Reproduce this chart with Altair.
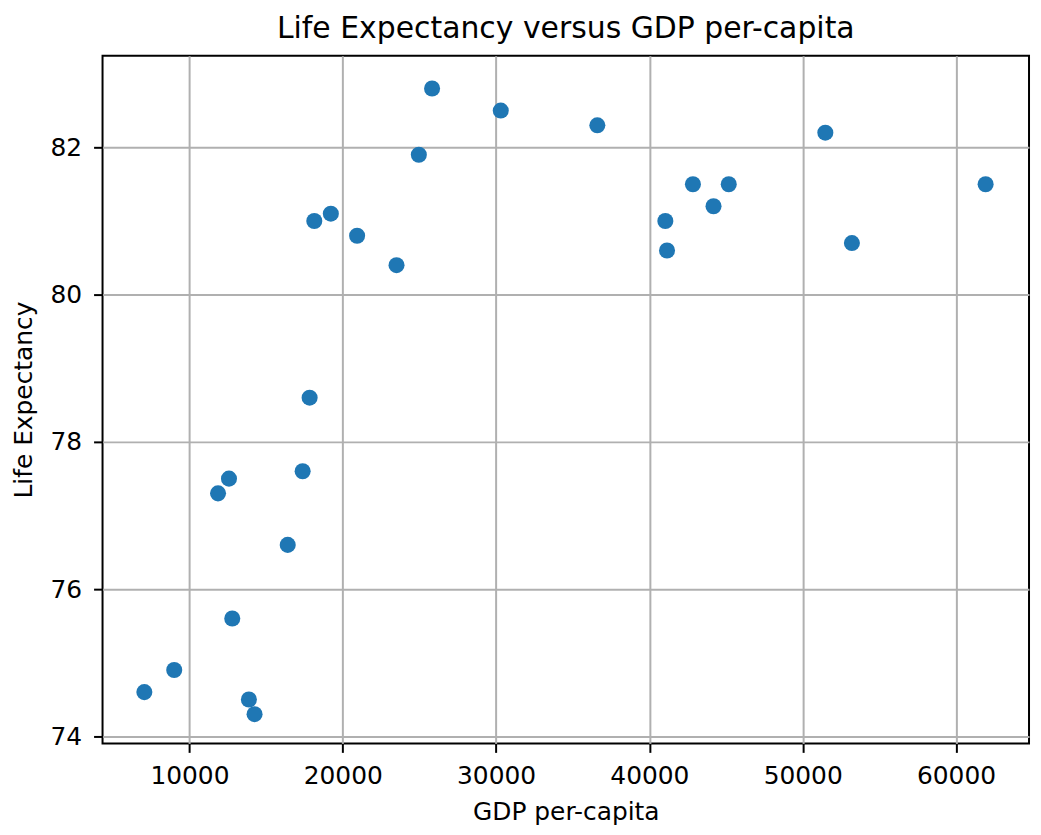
import altair as alt
import pandas as pd

gdp = [25825, 30305, 36604, 51474, 24961, 61929, 42838, 45175, 44182, 41039,
       19221, 18143, 20935, 53208, 41149, 23506, 17838, 17383, 12578, 11864,
       16409, 12792, 9006, 7058, 13877, 14247]
life = [82.8, 82.5, 82.3, 82.2, 81.9, 81.5, 81.5, 81.5, 81.2, 81.0,
        81.1, 81.0, 80.8, 80.7, 80.6, 80.4, 78.6, 77.6, 77.5, 77.3,
        76.6, 75.6, 74.9, 74.6, 74.5, 74.3]

x_ticks = [10000, 20000, 30000, 40000, 50000, 60000]
y_ticks = [74, 76, 78, 80, 82]

df = pd.DataFrame({"gdp": gdp, "life": life})

FONT = "DejaVu Sans"
W, H = 931, 691

chart = alt.Chart(df).mark_circle(
    color="#1f77b4", opacity=1, size=260
).encode(
    x=alt.X("gdp:Q",
            scale=alt.Scale(domain=[4331, 64760], nice=False, zero=False),
            axis=alt.Axis(values=x_ticks, format="d", title="GDP per-capita",
                          titleX=W / 2, titleY=76, titleBaseline="alphabetic",
                          labelPadding=11)),
    y=alt.Y("life:Q",
            scale=alt.Scale(domain=[73.903, 83.245], nice=False, zero=False),
            axis=alt.Axis(values=y_ticks, format="d", title="Life Expectancy",
                          titleX=-71, titleY=H / 2, titleBaseline="alphabetic",
                          titleAngle=270, labelPadding=12)),
).properties(
    width=W, height=H,
    title=alt.TitleParams("Life Expectancy versus GDP per-capita",
                          font=FONT, fontSize=30, fontWeight="normal",
                          color="black", anchor="middle", baseline="alphabetic",
                          offset=16, dy=28),
    autosize=alt.AutoSizeParams(type="none"),
    padding={"left": 95, "top": 46, "right": 4, "bottom": 81},
).configure_view(
    stroke="black", strokeWidth=2
).configure_axis(
    domain=False,
    grid=True, gridColor="#b0b0b0", gridWidth=2,
    ticks=True, tickSize=9, tickWidth=2, tickColor="black",
    labelFont=FONT, labelFontSize=25, labelColor="black",
    titleFont=FONT, titleFontSize=25, titleFontWeight="normal", titleColor="black",
)

chart.save("out.html", embed_options={"renderer": "svg", "actions": False})
